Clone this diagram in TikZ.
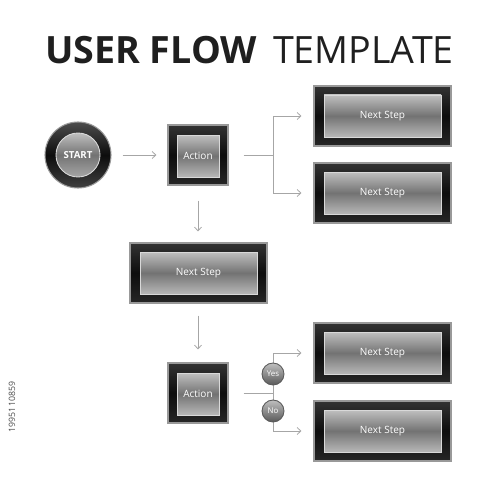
\documentclass[tikz,border=0pt]{standalone}
\usepackage{fontspec}
\setmainfont{Open Sans}
\usetikzlibrary{arrows.meta}
\newdimen\px \px=0.02cm
\tikzset{
  x=0.02cm, y=-0.02cm,
  outerbox/.style={draw=black!40, line width=0.6pt, top color=black!80, bottom color=black!85, middle color=black!95, inner sep=0},
  innerbox/.style={draw=black!15, line width=0.5pt, top color=black!25, bottom color=black!28, middle color=black!55, inner sep=0, text=white, font=\fontsize{5.7}{6}\selectfont},
  wide/.style={minimum width=137*\px, minimum height=60*\px},
  widein/.style={minimum width=117*\px, minimum height=42*\px},
  sq/.style={minimum width=60*\px, minimum height=60*\px},
  sqin/.style={minimum width=42*\px, minimum height=42*\px},
  conn/.style={draw=black!35, line width=0.45pt},
  arr/.style={conn, -{Straight Barb[length=2.2pt,width=4pt]}},
  yn/.style={circle, draw=black!65, line width=0.5pt, top color=black!25, bottom color=black!65, minimum size=22*\px, inner sep=0, text=white, font=\fontsize{4.5}{5}\selectfont},
}
\begin{document}
\begin{tikzpicture}
\useasboundingbox[fill=white] (0,0) rectangle (500,500);
% title
\node[anchor=center, text=black!88] (title) at (249.5,50)
  {\fontsize{21.4}{24}\selectfont\textbf{USER FLOW}\, TEMPLATE};
% watermark id
\node[rotate=90, text=black!70, font=\fontsize{5}{6}\selectfont] (wid) at (12,407) {1995110859};
% start
\node[circle, draw=black!40, line width=0.6pt, top color=black!70, bottom color=black!75, middle color=black!95, minimum size=66*\px, inner sep=0] (start) at (78,155) {};
\node[circle, draw=black!15, line width=0.5pt, top color=black!25, bottom color=black!35, middle color=black!55, minimum size=44*\px, inner sep=0, text=white, font=\bfseries\fontsize{5.5}{6}\selectfont] (startin) at (78,155) {START};
% action 1
\node[outerbox, sq] (a1) at (198,155) {};
\node[innerbox, sqin] (a1in) at (198,156) {Action};
% next steps
\node[outerbox, wide] (n1) at (382.5,116) {};
\node[innerbox, widein] (n1in) at (382.5,116) {Next Step};
\node[outerbox, wide] (n2) at (382.5,193) {};
\node[innerbox, widein] (n2in) at (382.5,193) {Next Step};
\node[outerbox, wide] (n3) at (198.5,273) {};
\node[innerbox, widein] (n3in) at (198.5,273) {Next Step};
% action 2
\node[outerbox, sq] (a2) at (198,393) {};
\node[innerbox, sqin] (a2in) at (198,394) {Action};
\node[outerbox, wide] (n4) at (382.5,353) {};
\node[innerbox, widein] (n4in) at (382.5,353) {Next Step};
\node[outerbox, wide] (n5) at (382.5,431) {};
\node[innerbox, widein] (n5in) at (382.5,431) {Next Step};
% connectors
\coordinate (j1) at (273,155);
\coordinate (j2) at (273,393);
\draw[arr, shorten <=11*\px, shorten >=11*\px] (start.east) -- (a1.west);
\draw[conn, shorten <=15*\px] (a1.east) -- (j1);
\draw[arr, shorten >=12*\px] (j1) |- (n1.west);
\draw[arr, shorten >=12*\px] (j1) |- (n2.west);
\draw[arr, shorten <=15*\px, shorten >=11*\px] (a1.south) -- (n3.north -| a1.south);
\draw[arr, shorten <=12*\px, shorten >=13*\px] (n3.south -| a2.north) -- (a2.north);
\draw[conn, shorten <=15*\px] (a2.east) -- (j2);
\draw[arr, shorten >=12*\px] (j2) |- (n4.west);
\draw[arr, shorten >=12*\px] (j2) |- (n5.west);
\node[yn] (yes) at (273,374) {Yes};
\node[yn] (no) at (273,411) {No};
\end{tikzpicture}
\end{document}
